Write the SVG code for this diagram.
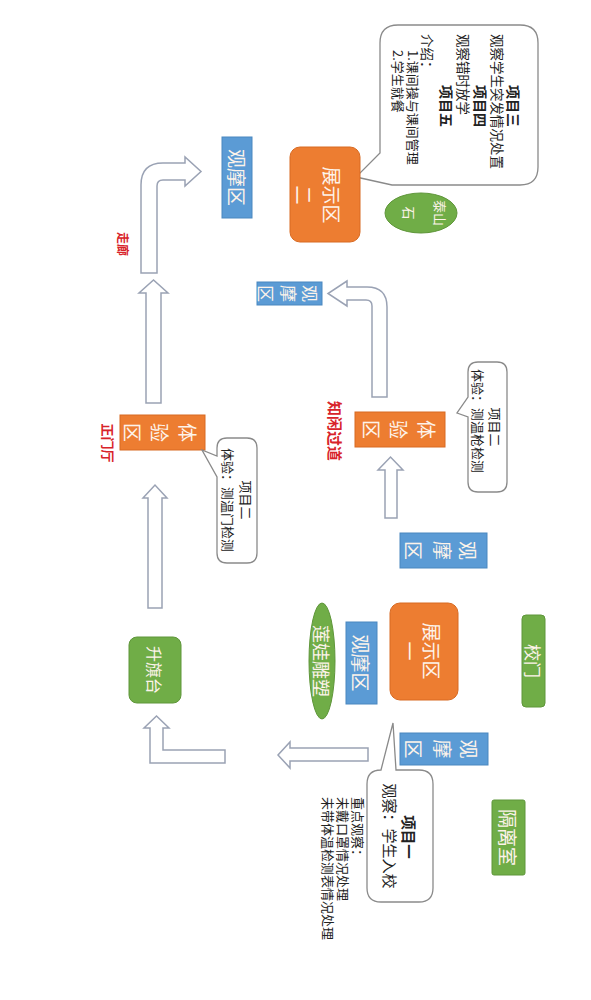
<svg xmlns="http://www.w3.org/2000/svg" width="591" height="1000" viewBox="0 0 591 1000">
<style>
text{font-family:"Noto Sans CJK SC","Liberation Sans",sans-serif;dominant-baseline:central}
.c{text-anchor:middle}
.s{text-anchor:start}
.w{fill:#fdf3ea}
.d{fill:#222}
.b{font-weight:bold}
.r{fill:#d8232a;font-weight:bold}
.or{fill:#ED7D31;stroke:#d86a22;stroke-width:1}
.bl{fill:#5B9BD5;stroke:#4a87bf;stroke-width:1}
.gr{fill:#70AD47;stroke:#5f963a;stroke-width:1}
.co{fill:#fff;stroke:#8a8a8a;stroke-width:1.3}
.ar{fill:#fff;stroke:#9aa2b4;stroke-width:1.5;stroke-linejoin:miter}
</style>
<rect width="591" height="1000" fill="#fff"/>

<g id="connectors">
<path class="ar" d="M146,403 L146,293 L139,293 L153.5,280 L168,293 L161,293 L161,403 Z"/>
<path class="ar" d="M141,273 L141,185 Q141,163 163,163 L185,163 L185,157 L201,171.5 L185,186 L185,180 L163,180 Q157,180 157,186 L157,273 Z"/>
<path class="ar" d="M385,518 L385,470 L378,470 L390.5,457 L403,470 L397,470 L397,518 Z"/>
<path class="ar" d="M372,397 L372,306 Q372,300 366,300 L347,300 L347,306 L328,293.5 L347,281 L347,287 L367,287 Q387,287 387,307 L387,397 Z"/>
<path class="ar" d="M148,608 L148,498 L143,498 L155,485 L167,498 L162,498 L162,608 Z"/>
<path class="ar" d="M150,728 L144,728 L156.5,716 L169,728 L163,728 L163,750 L225,750 L225,763 L150,763 Z"/>
<path class="ar" d="M368,748 L290,748 L290,742 L278,755 L290,768 L290,761 L368,761 Z"/>
</g>

<g id="callout-top">
<path class="co" d="M398,25 H520 Q538,25 538,43 V167 Q538,185 520,185 H392 L356,177 L380,153 V43 Q380,25 398,25 Z"/>
<text class="c d b" font-size="14" transform="translate(514,106) rotate(90)">项目三</text>
<text class="s d" font-size="13.5" transform="translate(498,34) rotate(90)">观察学生突发情况处置</text>
<text class="c d b" font-size="14" transform="translate(481,106) rotate(90)">项目四</text>
<text class="s d" font-size="13.5" transform="translate(464,34) rotate(90)">观察错时放学</text>
<text class="c d b" font-size="14" transform="translate(447,106) rotate(90)">项目五</text>
<text class="s d" font-size="13.5" transform="translate(428,34) rotate(90)">介绍：</text>
<text class="s d" font-size="13" transform="translate(413,50) rotate(90)">1.课间操与课间管理</text>
<text class="s d" font-size="13" transform="translate(398,50) rotate(90)">2.学生就餐</text>
</g>

<g id="show2">
<rect class="or" x="290" y="147" width="70" height="95" rx="10"/>
<text class="c w" font-size="19" transform="translate(325,195) rotate(90)"><tspan x="0" y="-8">展示区</tspan><tspan x="0" y="20">二</tspan></text>
</g>

<g id="taishan">
<ellipse class="gr" cx="421" cy="213" rx="36" ry="20"/>
<text class="c w" font-size="13" transform="translate(421,213) rotate(90)"><tspan x="0" y="-20">泰山</tspan><tspan x="0" y="11">石</tspan></text>
</g>

<g id="view-tl">
<rect class="bl" x="222" y="137" width="30" height="81"/>
<text class="c w" font-size="19" transform="translate(237,177.5) rotate(90)">观摩区</text>
</g>

<g id="label-corridor">
<text class="c r" font-size="12" transform="translate(123,244) rotate(90)">走廊</text>
</g>

<g id="view-tm">
<rect class="bl" x="257" y="282" width="65" height="23"/>
<text class="c w" font-size="17" transform="translate(289.5,293.5) rotate(90)"><tspan x="0" y="-21">观</tspan><tspan x="0" y="0">摩</tspan><tspan x="0" y="23">区</tspan></text>
</g>

<g id="exp-right">
<rect class="or" x="355" y="412" width="90" height="35"/>
<text class="c w" font-size="19" transform="translate(400,429.5) rotate(90)"><tspan x="0" y="-28">体</tspan><tspan x="0" y="0">验</tspan><tspan x="0" y="27">区</tspan></text>
</g>

<g id="label-passage">
<text class="c r" font-size="15" transform="translate(335,431) rotate(90)">知闲过道</text>
</g>

<g id="callout-right">
<path class="co" d="M478,362 H497 Q507,362 507,372 V482 Q507,492 497,492 H478 Q468,492 468,482 V417 L457,413 L468,397 V372 Q468,362 478,362 Z"/>
<text class="c d" font-size="13" transform="translate(495,427) rotate(90)">项目二</text>
<text class="c d" font-size="13" transform="translate(478,421) rotate(90)">体验：测温枪检测</text>
</g>

<g id="view-rm">
<rect class="bl" x="400" y="533" width="87" height="35"/>
<text class="c w" font-size="19" transform="translate(443.5,550.5) rotate(90)"><tspan x="0" y="-25">观</tspan><tspan x="0" y="0">摩</tspan><tspan x="0" y="29">区</tspan></text>
</g>

<g id="exp-left">
<rect class="or" x="120" y="415" width="85" height="35"/>
<text class="c w" font-size="19" transform="translate(162.5,432.5) rotate(90)"><tspan x="0" y="-26">体</tspan><tspan x="0" y="2">验</tspan><tspan x="0" y="29">区</tspan></text>
</g>

<g id="label-hall">
<text class="c r" font-size="13" transform="translate(108,443) rotate(90)">正门厅</text>
</g>

<g id="callout-left">
<path class="co" d="M227,438 H247 Q257,438 257,448 V553 Q257,563 247,563 H227 Q217,563 217,553 V477 L202,450 L217,456 V448 Q217,438 227,438 Z"/>
<text class="c d" font-size="13" transform="translate(246,500) rotate(90)">项目二</text>
<text class="c d" font-size="13" transform="translate(228,500) rotate(90)">体验：测温门检测</text>
</g>

<g id="flag">
<rect class="gr" x="129" y="637" width="52" height="66" rx="8"/>
<text class="c w" font-size="16" transform="translate(155,670) rotate(90)">升旗台</text>
</g>

<g id="show1">
<rect class="or" x="390" y="603" width="68" height="97" rx="10"/>
<text class="c w" font-size="19" transform="translate(424,651) rotate(90)"><tspan x="0" y="-9">展示区</tspan><tspan x="0" y="13">一</tspan></text>
</g>

<g id="view-s1">
<rect class="bl" x="346" y="622" width="31" height="82"/>
<text class="c w" font-size="19" transform="translate(361.5,663) rotate(90)">观摩区</text>
</g>

<g id="lotus">
<ellipse class="gr" cx="322" cy="661" rx="13" ry="58"/>
<text class="c w" font-size="18" transform="translate(322,661) rotate(90)">莲娃雕塑</text>
</g>

<g id="gate">
<rect class="gr" x="522" y="615" width="23" height="92" rx="4"/>
<text class="c w" font-size="17" transform="translate(533.5,661) rotate(90)">校门</text>
</g>

<g id="view-br">
<rect class="bl" x="400" y="733" width="88" height="32"/>
<text class="c w" font-size="19" transform="translate(444,749) rotate(90)"><tspan x="0" y="-26">观</tspan><tspan x="0" y="0">摩</tspan><tspan x="0" y="29">区</tspan></text>
</g>

<g id="callout-bottom">
<path class="co" d="M381,770 L393,723 L396,770 H419 Q433,770 433,784 V888 Q433,902 419,902 H381 Q367,902 367,888 V784 Q367,770 381,770 Z"/>
<text class="c d b" font-size="14.5" transform="translate(409,837) rotate(90)">项目一</text>
<text class="c d" font-size="15" transform="translate(390,836) rotate(90)">观察：学生入校</text>
</g>

<g id="notes">
<text class="s d" font-size="13" transform="translate(358,797) rotate(90)">重点观察：</text>
<text class="s d" font-size="13" transform="translate(343,797) rotate(90)">未戴口罩情况处理</text>
<text class="s d" font-size="13" transform="translate(328,797) rotate(90)">未带体温检测表情况处理</text>
</g>

<g id="isolation">
<rect class="gr" x="492" y="800" width="33" height="75" rx="2"/>
<text class="c w" font-size="19" transform="translate(508.5,837.5) rotate(90)">隔离室</text>
</g>
</svg>
